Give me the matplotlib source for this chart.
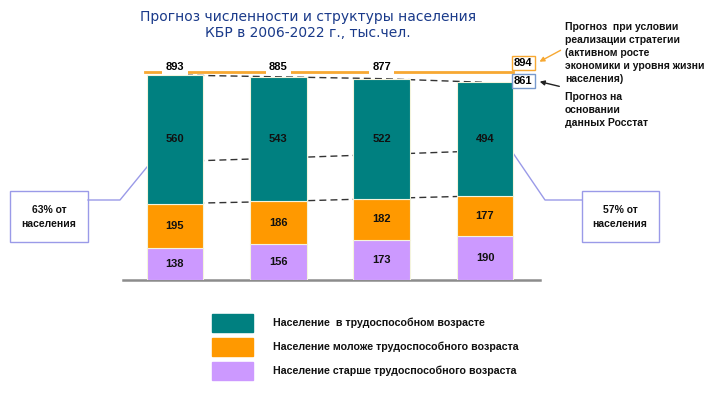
import numpy as np
import matplotlib.pyplot as plt
import matplotlib.transforms as mtransforms

# data (thousand people)
years       =   ['2006', '2010', '2015', '2022']
older       =   [138, 156, 173, 190]          # старше трудоспособного
younger     =   [195, 186, 182, 177]          # моложе трудоспособного
working     =   [560, 543, 522, 494]          # трудоспособный возраст
totals      =   [893, 885, 877, 861]
strategy    =   894                           # прогноз при реализации стратегии
rosstat     =   861                           # прогноз Росстат
guide       =   [516, 531, 547, 563]          # middle dashed guide
share_first =   '63% от\nнаселения'
share_last  =   '57% от\nнаселения'

c_work      =   '#008080'
c_young     =   '#FF9900'
c_old       =   '#CC99FF'
c_line      =   '#F7A832'
c_box       =   '#9A9AE8'

W, H = 718, 394
fig = plt.figure(figsize=(W/100, H/100), dpi=100)

# overlay in pixel coords for boxes, arrows and legend
ov = fig.add_axes([0, 0, 1, 1], zorder=0)
ov.set_xlim(0, W)
ov.set_ylim(H, 0)
ov.axis('off')

# main axes: baseline at y=280 px, top at 60 px
px_per_unit = 205/893
ax = fig.add_axes([123/W, (H-280)/H, (540-123)/W, 220/H], zorder=1)
ax.patch.set_alpha(0)
ax.set_xlim(-0.503, 3.532)
ax.set_ylim(0, 220/px_per_unit)
for s in ['top', 'right', 'left']:
    ax.spines[s].set_visible(False)
ax.spines['bottom'].set_color('#8c8c8c')
ax.spines['bottom'].set_linewidth(1.8)
ax.set_xticks([])
ax.set_yticks([])

x = np.arange(len(years))
bw = 0.547
older = np.array(older)
younger = np.array(younger)
working = np.array(working)

edge = dict(edgecolor='#f4f4dc', linewidth=0.8, zorder=3)
ax.bar(x, older, bw, color=c_old, **edge)
ax.bar(x, younger, bw, bottom=older, color=c_young, **edge)
ax.bar(x, working, bw, bottom=older+younger, color=c_work, **edge)

# dashed connectors, visible only between bars
dash = dict(color='#333333', lw=1.0, dashes=(5, 3), zorder=2)
ax.plot(x, older+younger+working, **dash)
ax.plot(x, older+younger, **dash)
ax.plot(x, guide, **dash)

lab = dict(ha='center', va='center', fontsize=8, fontweight='bold',
           family='Liberation Sans', color='#111111', zorder=4)
for i in x:
    ax.text(i, older[i]/2, str(older[i]), **lab)
    ax.text(i, older[i]+younger[i]/2, str(younger[i]), **lab)
    ax.text(i, older[i]+younger[i]+working[i]/2, str(working[i]), **lab)

# strategy line slightly above bar tops
up = mtransforms.offset_copy(ax.transData, fig, x=0, y=2.5, units='dots')
ax.plot([x[0]-0.29, x[-1]+0.27], [strategy, strategy], color=c_line, lw=2,
        transform=up, zorder=2, clip_on=False)
lab_up = mtransforms.offset_copy(ax.transData, fig, x=0, y=8, units='dots')
for i in x[:-1]:
    ax.text(i, strategy, str(totals[i]), transform=lab_up, ha='center', va='center',
            fontsize=8, fontweight='bold', family='Liberation Sans', zorder=5,
            bbox=dict(boxstyle='square,pad=0.3', fc='white', ec='none'))

box_up = mtransforms.offset_copy(ax.transData, fig, x=0, y=11.7, units='dots')
box_dn = mtransforms.offset_copy(ax.transData, fig, x=0, y=1.3, units='dots')
ax.text(x[-1]+0.37, strategy, str(strategy), transform=box_up, ha='center', va='center',
        fontsize=8, fontweight='bold', family='Liberation Sans', zorder=5, clip_on=False,
        bbox=dict(boxstyle='square,pad=0.2', fc='white', ec=c_line, lw=1))
ax.text(x[-1]+0.37, rosstat, str(rosstat), transform=box_dn, ha='center', va='center',
        fontsize=8, fontweight='bold', family='Liberation Sans', zorder=5, clip_on=False,
        bbox=dict(boxstyle='square,pad=0.2', fc='white', ec='#7799CC', lw=1))

# title
fig.text(308/W, 1-25/H, 'Прогноз численности и структуры населения\nКБР в 2006-2022 г., тыс.чел.',
         ha='center', va='center', fontsize=10, color='#1A3A8A', linespacing=1.15)

# right notes and arrows
note = dict(fontsize=7.5, fontweight='bold', family='Liberation Sans', color='#111111',
            va='top', ha='left', linespacing=1.38)
ov.text(565, 22, 'Прогноз  при условии\nреализации стратегии\n(активном росте\nэкономики и уровня жизни\nнаселения)', **note)
ov.text(565, 92, 'Прогноз на\nосновании\nданных Росстат', **note)
ov.annotate('', xy=(537, 63), xytext=(563, 49),
            arrowprops=dict(arrowstyle='-|>', color=c_line, lw=1, mutation_scale=7))
ov.annotate('', xy=(537, 81), xytext=(562, 87),
            arrowprops=dict(arrowstyle='-|>', color='#222222', lw=1, mutation_scale=7))

# share boxes with connectors
bt = dict(fontsize=7.5, fontweight='bold', family='Liberation Sans', ha='center', va='center',
          linespacing=1.5, color='#111111')
ov.add_patch(plt.Rectangle((10, 191), 78, 51, fill=False, ec=c_box, lw=1))
ov.text(49, 217, share_first, **bt)
ov.plot([88, 120, 147], [200, 200, 167], color=c_box, lw=1)
ov.add_patch(plt.Rectangle((582, 191), 77, 51, fill=False, ec=c_box, lw=1))
ov.text(620, 217, share_last, **bt)
ov.plot([582, 545, 513], [200, 200, 153], color=c_box, lw=1)

# legend
leg_labels = ['Население  в трудоспособном возрасте',
              'Население моложе трудоспособного возраста',
              'Население старше трудоспособного возраста']
leg_colors = [c_work, c_young, c_old]
for k, (t, c) in enumerate(zip(leg_labels, leg_colors)):
    y0 = 314 + 24*k
    ov.add_patch(plt.Rectangle((212, y0), 41, 18, color=c))
    ov.text(273, y0+9, t, fontsize=7.7, fontweight='bold', family='Liberation Sans',
            va='center', ha='left', color='#111111')

fig.savefig('out.png', dpi=100)
